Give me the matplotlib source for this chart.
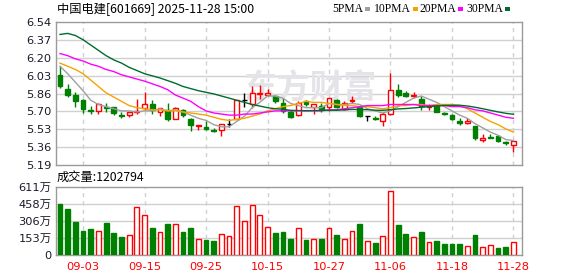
import matplotlib
matplotlib.use("Agg")
import matplotlib.pyplot as plt
from matplotlib.patches import Rectangle
import numpy as np

plt.rcParams['font.family'] = ['DejaVu Sans', 'Noto Sans CJK SC']

# ------------------ Dados ------------------
dates = ["08-29", "09-01", "09-02", "09-03", "09-04", "09-05", "09-08", "09-09", "09-10", "09-11",
         "09-12", "09-15", "09-16", "09-17", "09-18", "09-19", "09-22", "09-23", "09-24", "09-25",
         "09-26", "09-29", "09-30", "10-09", "10-10", "10-13", "10-14", "10-15", "10-16", "10-17",
         "10-20", "10-21", "10-22", "10-23", "10-24", "10-27", "10-28", "10-29", "10-30", "10-31",
         "11-03", "11-04", "11-05", "11-06", "11-07", "11-10", "11-11", "11-12", "11-13", "11-14",
         "11-17", "11-18", "11-19", "11-20", "11-21", "11-24", "11-25", "11-26", "11-27", "11-28"]

opens = [6.04, 5.91, 5.85, 5.80, 5.71, 5.70, 5.74, 5.74, 5.66, 5.66,
         5.69, 5.73, 5.76, 5.69, 5.71, 5.62, 5.71, 5.62, 5.56, 5.55,
         5.52, 5.52, 5.58, 5.62, 5.80, 5.76, 5.86, 5.85, 5.84, 5.77,
         5.69, 5.66, 5.79, 5.74, 5.75, 5.74, 5.80, 5.72, 5.79, 5.74,
         5.65, 5.63, 5.60, 5.67, 5.90, 5.87, 5.84, 5.81, 5.74, 5.75,
         5.68, 5.66, 5.60, 5.59, 5.56, 5.43, 5.45, 5.46, 5.41, 5.38]
highs = [6.12, 5.95, 5.88, 5.81, 5.75, 5.77, 5.77, 5.74, 5.69, 5.69,
         5.81, 5.88, 5.80, 5.73, 5.77, 5.74, 5.72, 5.63, 5.57, 5.60,
         5.54, 5.58, 5.62, 5.80, 5.87, 5.93, 5.94, 5.91, 5.85, 5.82,
         5.71, 5.79, 5.80, 5.76, 5.77, 5.82, 5.81, 5.79, 5.84, 5.75,
         5.65, 5.65, 5.69, 6.06, 5.95, 5.89, 5.88, 5.84, 5.76, 5.75,
         5.69, 5.67, 5.63, 5.63, 5.56, 5.48, 5.48, 5.47, 5.42, 5.42]
lows = [5.92, 5.83, 5.74, 5.68, 5.67, 5.67, 5.69, 5.66, 5.63, 5.64,
        5.67, 5.71, 5.67, 5.65, 5.60, 5.62, 5.64, 5.51, 5.52, 5.52,
        5.50, 5.46, 5.55, 5.62, 5.74, 5.73, 5.81, 5.84, 5.77, 5.68,
        5.63, 5.65, 5.75, 5.67, 5.69, 5.70, 5.73, 5.71, 5.77, 5.64,
        5.60, 5.61, 5.56, 5.66, 5.83, 5.83, 5.82, 5.71, 5.71, 5.69,
        5.66, 5.61, 5.57, 5.58, 5.43, 5.41, 5.44, 5.41, 5.38, 5.31]
closes = [5.93, 5.85, 5.79, 5.72, 5.70, 5.76, 5.73, 5.68, 5.65, 5.69,
          5.70, 5.76, 5.71, 5.73, 5.62, 5.73, 5.66, 5.57, 5.57, 5.53,
          5.51, 5.58, 5.58, 5.80, 5.80, 5.87, 5.87, 5.87, 5.79, 5.70,
          5.64, 5.77, 5.76, 5.76, 5.72, 5.82, 5.74, 5.77, 5.80, 5.65,
          5.65, 5.62, 5.67, 5.90, 5.85, 5.84, 5.85, 5.75, 5.75, 5.69,
          5.67, 5.62, 5.59, 5.60, 5.44, 5.44, 5.44, 5.42, 5.40, 5.42]

ma5 = [6.12, 6.05, 5.97, 5.89, 5.80, 5.76, 5.74, 5.72, 5.70, 5.70,
       5.69, 5.70, 5.70, 5.72, 5.70, 5.71, 5.69, 5.66, 5.63, 5.61,
       5.57, 5.55, 5.55, 5.60, 5.65, 5.73, 5.78, 5.84, 5.84, 5.82,
       5.77, 5.75, 5.73, 5.73, 5.73, 5.77, 5.76, 5.76, 5.77, 5.76,
       5.72, 5.70, 5.68, 5.70, 5.74, 5.78, 5.82, 5.84, 5.81, 5.78,
       5.74, 5.70, 5.66, 5.63, 5.58, 5.54, 5.50, 5.47, 5.43, 5.42]
ma10 = [6.15, 6.12, 6.09, 6.05, 5.99, 5.93, 5.87, 5.83, 5.79, 5.75,
        5.73, 5.72, 5.71, 5.71, 5.70, 5.70, 5.69, 5.68, 5.67, 5.66,
        5.64, 5.62, 5.61, 5.62, 5.63, 5.65, 5.67, 5.70, 5.72, 5.74,
        5.75, 5.77, 5.79, 5.78, 5.78, 5.77, 5.76, 5.75, 5.75, 5.74,
        5.74, 5.73, 5.72, 5.73, 5.75, 5.75, 5.76, 5.76, 5.75, 5.76,
        5.76, 5.76, 5.75, 5.72, 5.68, 5.64, 5.60, 5.57, 5.53, 5.50]
ma20 = [6.24, 6.22, 6.19, 6.17, 6.14, 6.12, 6.09, 6.07, 6.04, 6.02,
        6.00, 5.98, 5.955, 5.93, 5.90, 5.85, 5.82, 5.79, 5.74, 5.70,
        5.68, 5.67, 5.66, 5.66, 5.67, 5.67, 5.68, 5.69, 5.70, 5.70,
        5.70, 5.70, 5.70, 5.70, 5.70, 5.71, 5.71, 5.72, 5.73, 5.74,
        5.75, 5.75, 5.75, 5.76, 5.76, 5.76, 5.76, 5.75, 5.75, 5.75,
        5.75, 5.74, 5.74, 5.73, 5.71, 5.70, 5.68, 5.66, 5.64, 5.63]
ma30 = [6.42, 6.43, 6.41, 6.37, 6.32, 6.27, 6.22, 6.18, 6.15, 6.11,
        6.08, 6.05, 6.03, 6.01, 5.985, 5.96, 5.93, 5.91, 5.89, 5.875,
        5.86, 5.84, 5.82, 5.80, 5.78, 5.76, 5.745, 5.73, 5.72, 5.715,
        5.705, 5.703, 5.702, 5.703, 5.704, 5.706, 5.706, 5.709, 5.714, 5.713,
        5.711, 5.706, 5.705, 5.711, 5.718, 5.722, 5.728, 5.734, 5.740, 5.746,
        5.751, 5.752, 5.753, 5.746, 5.734, 5.720, 5.705, 5.690, 5.677, 5.668]

# volume em 万股
volume = [457, 412, 297, 217, 234, 216, 288, 199, 163, 178,
          427, 356, 243, 205, 279, 276, 208, 243, 142, 136,
          128, 187, 169, 436, 302, 445, 356, 249, 199, 208,
          145, 240, 136, 142, 145, 240, 181, 142, 214, 279,
          125, 107, 169, 569, 270, 190, 160, 208, 116, 128,
          101, 101, 101, 80, 181, 71, 89, 65, 74, 120.3]

price_ticks = [5.19, 5.36, 5.53, 5.70, 5.86, 6.03, 6.20, 6.37, 6.54]
price_labels = ["5.19", "5.36", "5.53", "5.70", "5.86", "6.03", "6.20", "6.37", "6.54"]
vol_ticks = [0, 153, 306, 458, 611]
vol_labels = ["0", "153万", "306万", "458万", "611万"]
date_labels = ["09-03", "09-15", "09-25", "10-15", "10-27", "11-06", "11-18", "11-28"]

title = "中国电建[601669] 2025-11-28 15:00"
vol_title = "成交量:1202794"
ma_names = ["5PMA", "10PMA", "20PMA", "30PMA"]

RED = "#ff0000"
GREEN = "#008000"
GRID = "#d0d0d0"
FRAME = "#9a9a9a"
TXT = "#1a1a2a"
MA_COLORS = ["#a0a0a0", "#f5a300", "#ff00ff", "#006b2e"]

# ------------------ Figura ------------------
fig = plt.figure(figsize=(5.78, 2.76), dpi=100)
ax = fig.add_axes([55.7 / 578, 1 - 165 / 276, 466.6 / 578, 143.3 / 276])
axv = fig.add_axes([55.7 / 578, 1 - 255.3 / 276, 466.6 / 578, 68.6 / 276])

o = np.array(opens)
h = np.array(highs)
l = np.array(lows)
c = np.array(closes)
x = np.arange(len(dates))
up = c > o
down = c < o
flat = c == o
w = 0.62

tick_pos = [dates.index(d) for d in date_labels]

for a in (ax, axv):
    a.set_xlim(-0.56, 60.15)
    for s in a.spines.values():
        s.set_color(FRAME)
        s.set_linewidth(1)
    a.tick_params(length=0, labelsize=8.2, colors=TXT, pad=3)
    a.set_xticks(tick_pos)
    for t in tick_pos:
        a.axvline(t, color=GRID, lw=1, ls=(0, (3, 3)), zorder=0)

# velas
wick_colors = np.where(up, RED, np.where(down, GREEN, "black"))
ax.vlines(x, l, h, colors=wick_colors, lw=1, zorder=2)
ax.bar(x[up], (c - o)[up], bottom=o[up], width=w, facecolor="white", edgecolor=RED, lw=1, zorder=3)
ax.bar(x[down], (o - c)[down], bottom=c[down], width=w, facecolor=GREEN, edgecolor=GREEN, lw=1, zorder=3)
ax.hlines(c[flat], x[flat] - w / 2, x[flat] + w / 2, colors="black", lw=1, zorder=3)

for ma, col in zip([ma5, ma10, ma20, ma30], MA_COLORS):
    ax.plot(x, ma, color=col, lw=1, zorder=4)

ax.set_ylim(5.19, 6.54)
ax.set_yticks(price_ticks)
ax.set_yticklabels(price_labels)
ax.set_xticklabels([])
for p in price_ticks[1:-1]:
    ax.axhline(p, color=GRID, lw=1, zorder=0)

ax.text(0.545, 0.53, "东方财富", transform=ax.transAxes, fontsize=24, color="#e4e4e8",
        family=["Noto Sans CJK SC"], fontweight="bold", ha="center", va="center", zorder=0.5)

# volume
vol_up = np.diff(c, prepend=o[0]) >= 0
v = np.array(volume)
axv.bar(x[vol_up], v[vol_up], width=w, facecolor="white", edgecolor=RED, lw=1, zorder=3)
axv.bar(x[~vol_up], v[~vol_up], width=w, facecolor=GREEN, edgecolor=GREEN, lw=1, zorder=3)
axv.set_ylim(0, 611)
axv.set_yticks(vol_ticks)
axv.set_yticklabels(vol_labels)
axv.set_xticklabels(date_labels, color=RED)
axv.tick_params(axis="x", pad=5)
for p in vol_ticks[1:-1]:
    axv.axhline(p, color=GRID, lw=1, zorder=0)

# textos
fig.text(57 / 578, 1 - 9 / 276, title, fontsize=8.8, color="black", va="center",
         family=["Noto Sans CJK SC", "DejaVu Sans"])
fig.text(57 / 578, 1 - 177 / 276, vol_title, fontsize=8.8, color="black", va="center",
         family=["Noto Sans CJK SC", "DejaVu Sans"])

# legenda das médias
mark_x = [365, 413, 458, 505]
for name, mx, col in zip(ma_names, mark_x, MA_COLORS):
    fig.text((mx - 2) / 578, 1 - 9 / 276, name, fontsize=8.4, color="black", va="center",
             ha="right", family=["Liberation Serif"])
    fig.patches.append(Rectangle((mx / 578, 1 - 10.5 / 276), 5 / 578, 3 / 276,
                                 transform=fig.transFigure, facecolor=col, edgecolor="none"))

plt.savefig("out.png", dpi=100)
plt.close()
